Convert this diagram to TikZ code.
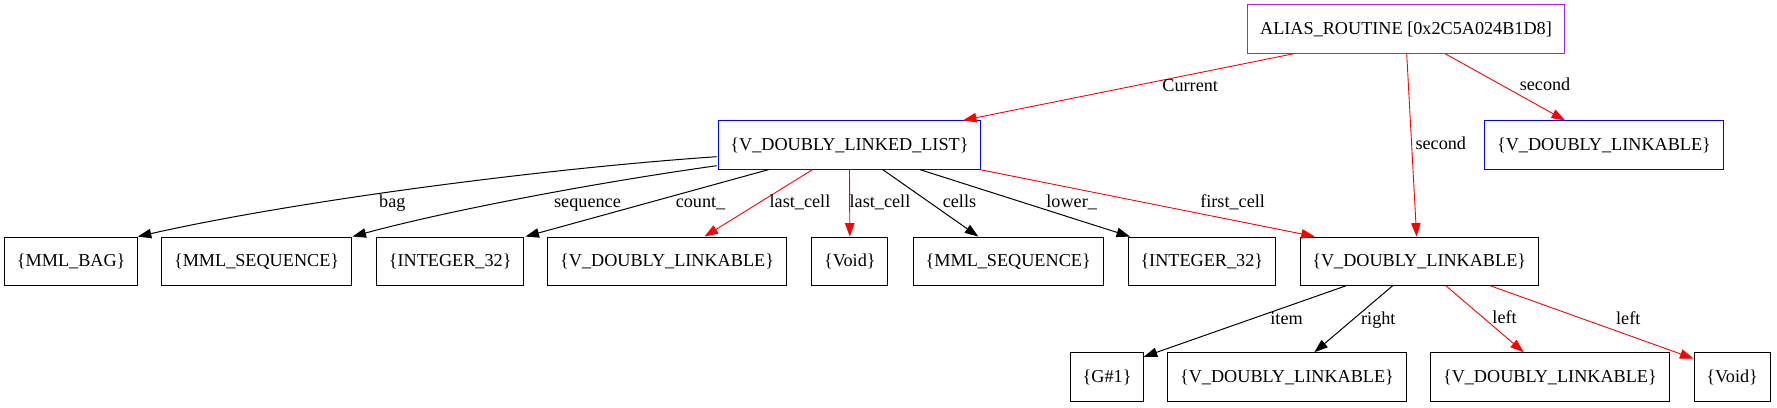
\documentclass[tikz,border=0pt]{standalone}
\usepackage{fontspec}
\setmainfont{Liberation Serif}
\usetikzlibrary{arrows.meta}
\definecolor{gvpurple}{HTML}{A020F0}

\begin{document}
\begin{tikzpicture}[x=1pt,y=-1pt,->,>={Triangle[length=13.5pt,width=9.5pt]},
	font=\fontsize{18.2}{22}\selectfont,
	obj/.style={draw,rectangle,line width=1pt,minimum height=48.3pt,inner xsep=12.3pt,inner ysep=0pt},
	rf/.style={red,line width=0.9pt},
	bf/.style={black,line width=1pt},
	lbl/.style={anchor=base,inner sep=0pt,text=black}]

\useasboundingbox (0,0) rectangle (1777,407);

\node[obj,draw=gvpurple](alias) at (1406,29){ALIAS\_ROUTINE [0x2C5A024B1D8]};
\node[obj,draw=blue](list) at (849.5,145){\{V\_DOUBLY\_LINKED\_LIST\}};
\node[obj,draw=blue](lk0) at (1604,145){\{V\_DOUBLY\_LINKABLE\}};
\node[obj](bag) at (71.2,261.2){\{MML\_BAG\}};
\node[obj](seq1) at (256.6,261.2){\{MML\_SEQUENCE\}};
\node[obj](int1) at (450.2,261.2){\{INTEGER\_32\}};
\node[obj](lk1) at (667.1,261.2){\{V\_DOUBLY\_LINKABLE\}};
\node[obj](void1) at (849.8,261.2){\{Void\}};
\node[obj](seq2) at (1008.2,261.2){\{MML\_SEQUENCE\}};
\node[obj](int2) at (1201.8,261.2){\{INTEGER\_32\}};
\node[obj](lk2) at (1419.2,261.2){\{V\_DOUBLY\_LINKABLE\}};
\node[obj](g1) at (1107.1,376.9){\{G\#1\}};
\node[obj](lk3) at (1287,376.9){\{V\_DOUBLY\_LINKABLE\}};
\node[obj](lk4) at (1549.9,376.9){\{V\_DOUBLY\_LINKABLE\}};
\node[obj](void2) at (1732.1,376.9){\{Void\}};

\path([xshift=-112pt]alias.south) edge[rf] node[lbl,pos=0.57,xshift=84.9pt]{Current} ([xshift=113.5pt]list.north)
	([xshift=0.7pt]alias.south) edge[rf] node[lbl,pos=0.522,xshift=28.9pt]{second} ([xshift=-2.6pt]lk2.north)
	([xshift=39pt]alias.south) edge[rf] node[lbl,pos=0.557,xshift=33.2pt]{second} ([xshift=-39pt]lk0.north)
	([xshift=-132.8pt,yshift=-11.7pt]list.center) edge[bf,to path={.. controls (550,168) and (300,200) .. (\tikztotarget) \tikztonodes}] node[lbl,pos=0.5,xshift=-33.2pt,yshift=-20.5pt]{bag} ([xshift=66.6pt]bag.north)
	([xshift=-132.8pt,yshift=-20.7pt]list.center) edge[bf,to path={.. controls (600,182) and (450,210) .. (\tikztotarget) \tikztonodes}] node[lbl,pos=0.5,xshift=60.1pt,yshift=-10.3pt]{sequence} ([xshift=95.9pt]seq1.north)
	([xshift=-81pt]list.south) edge[bf] node[lbl,pos=0.567,xshift=69.8pt]{count\_} ([xshift=75.3pt]int1.north)
	([xshift=-37pt]list.south) edge[rf] node[lbl,pos=0.567,xshift=48.7pt]{last\_cell} ([xshift=37.4pt]lk1.north)
	(list.south) edge[rf] node[lbl,pos=0.567,xshift=30.3pt]{last\_cell} (void1.north)
	([xshift=33.3pt]list.south) edge[bf] node[lbl,pos=0.567,xshift=22.5pt]{cells} ([xshift=-29.9pt]seq2.north)
	([xshift=70.5pt]list.south) edge[bf] node[lbl,pos=0.567,xshift=32.6pt]{lower\_} ([xshift=-71.8pt]int2.north)
	([xshift=130.5pt]list.south) edge[rf] node[lbl,pos=0.563,xshift=64.1pt]{first\_cell} ([xshift=-104.4pt]lk2.north)
	([xshift=-73.4pt]lk2.south) edge[bf] node[lbl,pos=0.539,xshift=49.7pt]{item} ([xshift=36.6pt,yshift=-4.6pt]g1.north)
	([xshift=-26.7pt]lk2.south) edge[bf] node[lbl,pos=0.576,xshift=30.8pt]{right} ([xshift=27.4pt]lk3.north)
	([xshift=26.8pt]lk2.south) edge[rf] node[lbl,pos=0.571,xshift=14.2pt]{left} ([xshift=-26.2pt]lk4.north)
	([xshift=71.3pt]lk2.south) edge[rf] node[lbl,pos=0.527,xshift=30.8pt]{left} ([xshift=-38.6pt,yshift=-6.3pt]void2.north);

\end{tikzpicture}
\end{document}
